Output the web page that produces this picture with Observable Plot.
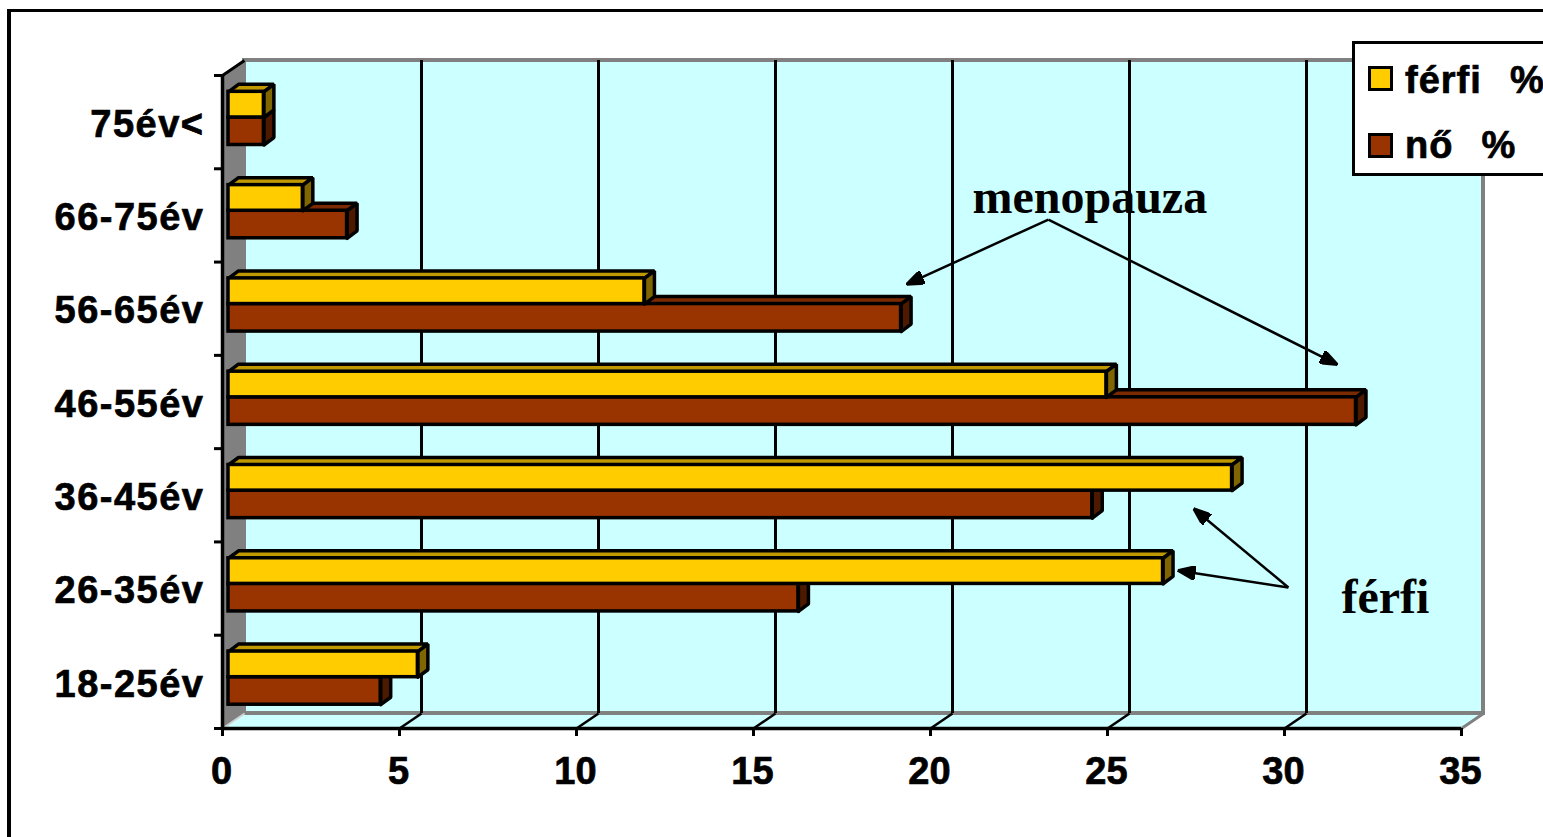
<!DOCTYPE html>
<html>
<head>
<meta charset="utf-8">
<script src="https://cdn.jsdelivr.net/npm/d3@7"></script>
<script src="https://cdn.jsdelivr.net/npm/@observablehq/plot@0.6"></script>
<style>
html,body{margin:0;padding:0;background:#fff;overflow:hidden;width:1543px;height:837px}
#frame{position:absolute;left:7px;top:9px;width:1620px;height:900px;border:3px solid #000;border-left-width:4px;box-sizing:border-box}
#chart{position:absolute;left:0;top:0}
#chart svg{display:block;overflow:visible}
#chart g[aria-label="y-axis tick label"] text{letter-spacing:1.5px;stroke:#000;stroke-width:.7px}
#chart g[aria-label="x-axis tick label"] text{stroke:#000;stroke-width:.7px}
#legend{position:absolute;left:1352px;top:41px;width:260px;height:135px;border:3px solid #000;box-sizing:border-box;background:#fff;font:bold 38px "Liberation Sans",sans-serif;color:#000;letter-spacing:1px;word-spacing:2.5px;-webkit-text-stroke:.7px #000}
#legend .sw{position:absolute;left:13px;width:25px;height:25px;border:3px solid #000;box-sizing:border-box}
#legend .lb{position:absolute;left:50px;white-space:pre;line-height:44px}
</style>
</head>
<body>
<div id="frame"></div>
<div id="chart"></div>
<div id="legend">
  <div class="sw" style="top:22px;background:#FFCC00"></div><div class="lb" style="top:14px">férfi&nbsp;&nbsp;%</div>
  <div class="sw" style="top:89px;background:#993300"></div><div class="lb" style="top:79px">nő&nbsp;&nbsp;%</div>
</div>
<script>
// Data, bottom row first
const categories = ["18-25év","26-35év","36-45év","46-55év","56-65év","66-75év","75év<"];
const maleValues   = [5.35, 26.4, 28.35, 24.8, 11.75, 2.1, 1.0];
const femaleValues = [4.3, 16.1, 24.4, 31.85, 19.0, 3.35, 1.0];
const xTicks = [0,5,10,15,20,25,30,35];
const gridTicks = [5,10,15,20,25,30];
const rowEdges = [0,1,2,3,4,5,6,7];
const rowCenters = [0.5,1.5,2.5,3.5,4.5,5.5,6.5];

// Annotation texts and arrows, in chart units (value, row)
const notes = [
  {text:"menopauza", x:24.5, y:5.69},
  {text:"férfi", x:32.85, y:1.40}
];
const arrows = [
  {x1:23.33,y1:5.456,x2:19.32,y2:4.76},
  {x1:23.33,y1:5.456,x2:31.5,y2:3.90},
  {x1:30.11,y1:1.511,x2:27.43,y2:2.358},
  {x1:30.11,y1:1.511,x2:26.98,y2:1.694}
];

// 3D look
const wallX = 22/35.4, wallY = 15/93.29; // wall depth in chart units
const barX = 0.282, barY = 0.08;         // bar depth in chart units
const barBase = 0.255, barSplit = 0.55, barTop = 0.825; // bar edges inside a row
const barShift = 6;
const C = {yellow:"#FFCC00", yTop:"#C09900", ySide:"#806600",
           brown:"#993300", bTop:"#7A2900", bSide:"#4D1A00",
           wall:"#CCFFFF", grey:"#808080"};

const bars = (values, lo, hi) => values.map((v,i)=>({v, y1:i+lo, y2:i+hi, id:i}));
const femaleBars = bars(femaleValues, barBase, barSplit);
const maleBars   = bars(maleValues, barSplit, barTop);

const poly = (id, pts) => pts.concat([pts[0]]).map(([x,y])=>({x,y,id}));
const topFaces = bs => bs.flatMap(b => poly(b.id, [[0,b.y2],[barX,b.y2+barY],[b.v+barX,b.y2+barY],[b.v,b.y2]]));
const sideFaces = bs => bs.flatMap(b => poly(b.id, [[b.v,b.y1],[b.v+barX,b.y1+barY],[b.v+barX,b.y2+barY],[b.v,b.y2]]));

const face = (d, fill) => Plot.line(d,{x:"x",y:"y",z:"id",fill,stroke:"#000",strokeWidth:3.5,strokeLinejoin:"miter",dx:barShift});
const front = (d, fill) => Plot.rect(d,{x1:0,x2:"v",y1:"y1",y2:"y2",fill,stroke:"#000",strokeWidth:3.5,strokeLinejoin:"miter",dx:barShift});

function arrowHead(color, context){
  const ns = "http://www.w3.org/2000/svg";
  const m = context.document.createElementNS(ns,"marker");
  m.setAttribute("viewBox","0 0 18 14");
  m.setAttribute("markerWidth",18);
  m.setAttribute("markerHeight",14);
  m.setAttribute("refX",18);
  m.setAttribute("refY",7);
  m.setAttribute("orient","auto");
  m.setAttribute("markerUnits","userSpaceOnUse");
  const p = context.document.createElementNS(ns,"path");
  p.setAttribute("d","M0,0L18,7L0,14Z");
  p.setAttribute("fill",color);
  m.appendChild(p);
  return m;
}

const axisStyle = {fontSize:38,fontWeight:"bold",stroke:"#000",fill:"#000",strokeWidth:3,label:null};

const plot = Plot.plot({
  width:1543, height:837,
  marginLeft:222, marginRight:82, marginTop:75, marginBottom:109,
  x:{domain:[0,35]},
  y:{domain:[0,7]},
  style:{fontFamily:"'Liberation Sans',sans-serif",background:"transparent",color:"#000"},
  marks:[
    // floor and walls
    Plot.line(poly("floor",[[0,0],[35,0],[35+wallX,wallY],[wallX,wallY]]),{x:"x",y:"y",z:"id",fill:C.wall,stroke:"none"}),
    Plot.rect([{}],{x1:0,x2:35,y1:0,y2:7,dx:22,dy:-15,fill:C.wall,stroke:C.grey,strokeWidth:4}),
    Plot.line(poly("left",[[0,0],[wallX,wallY],[wallX,7+wallY],[0,7]]),{x:"x",y:"y",z:"id",fill:C.grey,stroke:"none"}),
    // gridlines on the back wall and their floor stubs
    Plot.ruleX(gridTicks,{y1:0,y2:7,dx:22,dy:-15,stroke:"#000",strokeWidth:3}),
    Plot.link(gridTicks,{x1:d=>d,x2:d=>d+wallX,y1:0,y2:wallY,stroke:"#000",strokeWidth:2.5}),
    Plot.link([35],{x1:d=>d,x2:d=>d+wallX,y1:0,y2:wallY,stroke:C.grey,strokeWidth:3}),
    Plot.link([0],{x1:d=>d,x2:d=>d+wallX,y1:0,y2:wallY,stroke:"#D0D0D0",strokeWidth:2}),
    Plot.link([0],{x1:d=>d,x2:d=>d+wallX,y1:7,y2:7+wallY,stroke:"#000",strokeWidth:3}),
    // bars
    face(topFaces(femaleBars),C.bTop),
    face(sideFaces(femaleBars),C.bSide),
    front(femaleBars,C.brown),
    face(topFaces(maleBars),C.yTop),
    face(sideFaces(maleBars),C.ySide),
    front(maleBars,C.yellow),
    // axes
    Plot.ruleY([0],{x1:0,x2:35,stroke:"#000",strokeWidth:3.5}),
    Plot.ruleX([0],{y1:0,y2:7,stroke:"#000",strokeWidth:3.5}),
    Plot.axisX(xTicks,{...axisStyle,tickSize:8,tickFormat:()=>null}),
    Plot.axisX(xTicks,{...axisStyle,tickSize:0,tickPadding:29,dx:-1}),
    Plot.axisY(rowEdges,{...axisStyle,tickSize:8,tickFormat:()=>null}),
    Plot.axisY(rowCenters,{...axisStyle,tickSize:0,tickPadding:18,dy:2.5,tickFormat:d=>categories[Math.floor(d)]}),
    // annotations
    Plot.link(arrows,{x1:"x1",y1:"y1",x2:"x2",y2:"y2",stroke:"#000",strokeWidth:2.5,markerEnd:arrowHead}),
    Plot.text(notes,{x:"x",y:"y",text:"text",fontSize:48,fontWeight:"bold",fontFamily:"'Liberation Serif',serif",fill:"#000"})
  ]
});
document.getElementById("chart").appendChild(plot);
</script>
</body>
</html>
